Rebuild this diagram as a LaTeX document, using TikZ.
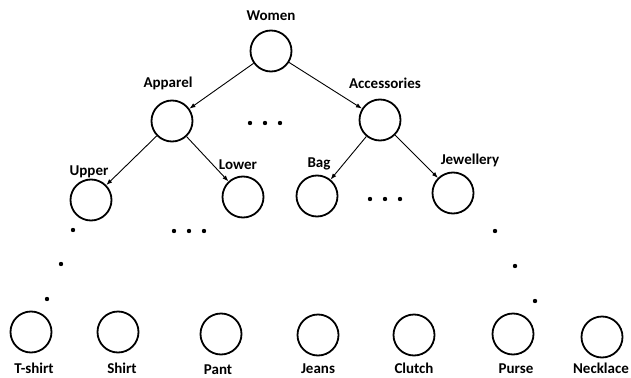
\documentclass[tikz,border=0pt]{standalone}
\usepackage{fontspec}
\setmainfont{Carlito}
\usetikzlibrary{arrows.meta}
\tikzset{>={Latex[length=6pt,width=4.5pt]}}
\usepackage{xcolor}
\tikzstyle{cat}=[circle,draw=black,line width=1.8pt,minimum size=41,inner sep=0]
\tikzstyle{leaf}=[cat]
\tikzstyle{cat label}=[font=\bfseries\fontsize{15}{18}\selectfont,inner sep=0,anchor=base]
\tikzstyle{connect}=[->,line width=0.9pt]
\tikzstyle{dot}=[fill=black]

\begin{document}
\begin{tikzpicture}[x=1pt,y=-1pt]
      \useasboundingbox (0,0) rectangle (631,377);
      \def\rdot{2.2} % radius of the dots

        % DRAW INNER NODES
        \node[cat] (women) at (271,51) {};
        \node[cat] (apparel) at (172,121) {};
        \node[cat] (accessories) at (380,120) {};
        \node[cat] (upper) at (91,200) {};
        \node[cat] (lower) at (243,197) {};
        \node[cat] (bag) at (317,196) {};
        \node[cat] (jewellery) at (453,193) {};

        % LABELS
        \node[cat label] (L-women) at (271,21) {Women};
        \node[cat label] (L-apparel) at (168,88) {Apparel};
        \node[cat label] (L-accessories) at (385,89) {Accessories};
        \node[cat label] (L-upper) at (89,175) {Upper};
        \node[cat label] (L-lower) at (238,169) {Lower};
        \node[cat label] (L-bag) at (319,167) {Bag};
        \node[cat label] (L-jewellery) at (470,164) {Jewellery};

        % DRAW LEAVES
        \foreach \name/\x/\y/\lx/\ly [count=\i] in {T-shirt/31/332/34/373, Shirt/118/332/122/373,
            Pant/221/334/218/374, Jeans/318/335/318/373, Clutch/414/335/414/373,
            Purse/513/334/516/373, Necklace/602/337/601/373}{
                \node[leaf] (NL-\i) at (\x,\y) {};
                \node[cat label] (LL-\i) at (\lx,\ly) {\name};
            }

        % DRAW EDGES
        \draw[connect] (women) -- (apparel);
        \draw[connect] (women) -- (accessories);
        \draw[connect] (apparel) -- (upper);
        \draw[connect] (apparel) -- (lower);
        \draw[connect] (accessories) -- (bag);
        \draw[connect] (accessories) -- (jewellery);

      % DOTS
      \foreach \x in {-15,0,15}{
          \fill[dot] (265+\x,123) circle (\rdot);
          \fill[dot] (189+\x,231) circle (\rdot);
          \fill[dot] (385+\x,199) circle (\rdot);
      }
      \foreach \x/\y in {73/230, 61/264, 47/299, 495/231, 515/266, 535/301}
          \fill[dot] (\x,\y) circle (\rdot);
\end{tikzpicture}
\end{document}
